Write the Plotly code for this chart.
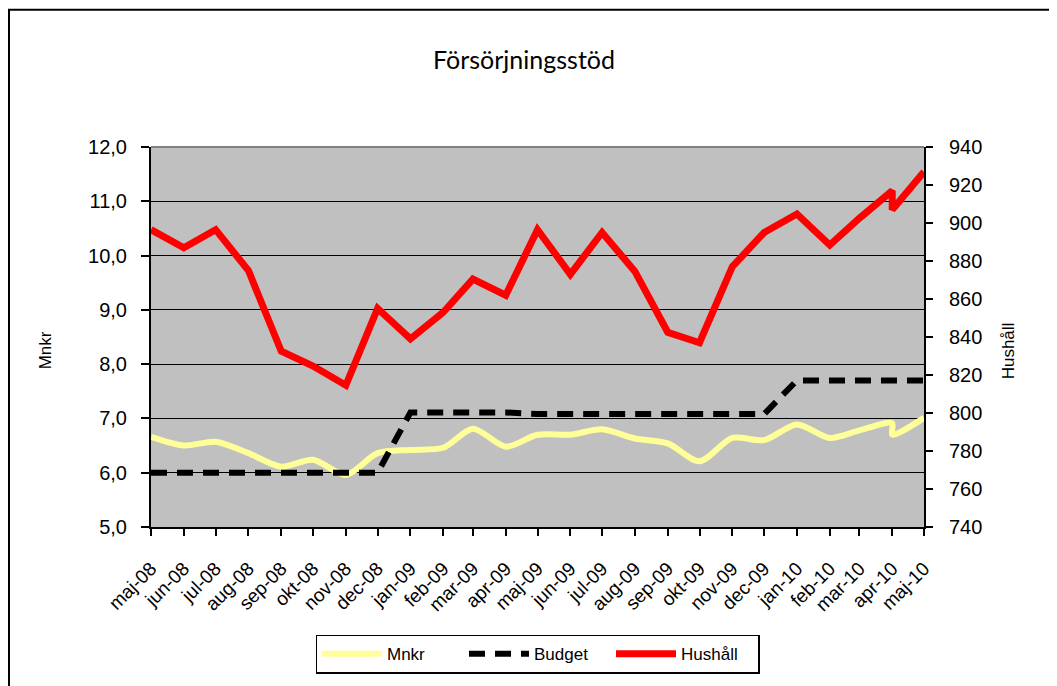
import plotly.graph_objects as go

# ---- data ----
dates = [
    "2008-05-01", "2008-06-01", "2008-07-01", "2008-08-01", "2008-09-01", "2008-10-01",
    "2008-11-01", "2008-12-01", "2009-01-01", "2009-02-01", "2009-03-01", "2009-04-01",
    "2009-05-01", "2009-06-01", "2009-07-01", "2009-08-01", "2009-09-01", "2009-10-01",
    "2009-11-01", "2009-12-01", "2010-01-01", "2010-02-01", "2010-03-01", "2010-04-01",
    "2010-04-01", "2010-05-01",
]
mnkr = [6.66, 6.50, 6.57, 6.36, 6.11, 6.24, 5.96, 6.36, 6.42, 6.46, 6.81, 6.48,
        6.70, 6.70, 6.80, 6.63, 6.54, 6.21, 6.64, 6.60, 6.89, 6.64, 6.78, 6.91,
        6.70, 7.01]
budget = [6.0, 6.0, 6.0, 6.0, 6.0, 6.0, 6.0, 6.0, 7.11, 7.11, 7.11, 7.11,
          7.08, 7.08, 7.08, 7.08, 7.08, 7.08, 7.08, 7.08, 7.70, 7.70, 7.70, 7.70,
          7.70, 7.70]
hushall = [896.5, 887, 896.5, 875, 832.5, 824.7, 814.6, 855, 839, 853, 870.5, 862,
           896.5, 873, 895, 874.5, 842.5, 837, 877, 895, 904.7, 888.4, 902.5, 917,
           907, 927]

tick_dates = [
    "2008-05-01", "2008-06-01", "2008-07-01", "2008-08-01", "2008-09-01", "2008-10-01",
    "2008-11-01", "2008-12-01", "2009-01-01", "2009-02-01", "2009-03-01", "2009-04-01",
    "2009-05-01", "2009-06-01", "2009-07-01", "2009-08-01", "2009-09-01", "2009-10-01",
    "2009-11-01", "2009-12-01", "2010-01-01", "2010-02-01", "2010-03-01", "2010-04-01",
    "2010-05-01",
]
tick_labels = [
    "maj-08", "jun-08", "jul-08", "aug-08", "sep-08", "okt-08", "nov-08", "dec-08",
    "jan-09", "feb-09", "mar-09", "apr-09", "maj-09", "jun-09", "jul-09", "aug-09",
    "sep-09", "okt-09", "nov-09", "dec-09", "jan-10", "feb-10", "mar-10", "apr-10",
    "maj-10",
]

# page has an 8px body margin; figure is sized to fit the window
OFF = 8
W, H = 1057 - OFF, 686 - OFF
L, R, T, B = 151 - OFF, 924 - OFF, 147 - OFF, 532 - OFF
pw, ph = R - L, B - T

def px_x(x):
    return (x - OFF - L) / pw

def px_y(y):
    return (B - (y - OFF)) / ph

FONT = "Liberation Sans, Arial, sans-serif"

fig = go.Figure()
fig.add_trace(go.Scatter(
    x=dates, y=mnkr, name="Mnkr", mode="lines",
    line=dict(color="#FFFF99", width=6, shape="spline", smoothing=0.8),
))
fig.add_trace(go.Scatter(
    x=dates, y=budget, name="Budget", mode="lines",
    line=dict(color="black", width=6, dash="16px,10px"),
))
fig.add_trace(go.Scatter(
    x=dates, y=hushall, name="Hushåll", mode="lines", yaxis="y2",
    line=dict(color="#FF0000", width=7),
))

fig.update_layout(
    width=W, height=H,
    margin=dict(l=L, r=W - R, t=T, b=H - B, pad=0),
    paper_bgcolor="white",
    plot_bgcolor="#C0C0C0",
    separators=", ",
    font=dict(family=FONT, size=18, color="black"),
    title=dict(
        text="Försörjningsstöd",
        font=dict(family="Lato, Open Sans, sans-serif", size=25, color="black"),
        xref="container", x=(524 - OFF) / W, xanchor="center",
        yref="container", y=1 - (60 - OFF) / H, yanchor="middle",
    ),
    xaxis=dict(
        type="date",
        range=["2008-05-01", "2010-05-01"],
        tickmode="array", tickvals=tick_dates, ticktext=tick_labels,
        tickangle=-45,
        tickfont=dict(family=FONT, size=19),
        ticklabelstandoff=14,
        showgrid=False, zeroline=False,
        showline=True, linecolor="black", linewidth=2,
        ticks="outside", ticklen=7, tickwidth=1.5, tickcolor="black",
    ),
    yaxis=dict(
        range=[5, 12], dtick=1, tick0=5, tickformat=".1f",
        tickfont=dict(family=FONT, size=20),
        ticklabelstandoff=10,
        showgrid=True, gridcolor="black", gridwidth=1.2,
        zeroline=False,
        showline=True, linecolor="black", linewidth=2,
        ticks="outside", ticklen=8, tickwidth=1.5, tickcolor="black",
    ),
    yaxis2=dict(
        overlaying="y", side="right",
        range=[740, 940], dtick=20, tick0=740,
        tickfont=dict(family=FONT, size=20),
        ticklabelstandoff=12,
        showgrid=False, zeroline=False,
        showline=True, linecolor="black", linewidth=2,
        ticks="outside", ticklen=7, tickwidth=1.5, tickcolor="black",
    ),
    legend=dict(
        orientation="h",
        x=0.5, xanchor="center",
        y=px_y(641), yanchor="top",
        bgcolor="white", bordercolor="black", borderwidth=1.5,
        font=dict(family=FONT, size=17),
        itemwidth=60,
        entrywidth=72, entrywidthmode="pixels",
        traceorder="normal",
    ),
    showlegend=True,
)

fig.add_annotation(
    text="Mnkr", xref="paper", yref="paper",
    x=px_x(45), y=px_y(353), textangle=-90, showarrow=False,
    font=dict(family=FONT, size=17), xanchor="center", yanchor="middle",
)
fig.add_annotation(
    text="Hushåll", xref="paper", yref="paper",
    x=px_x(1008), y=px_y(353), textangle=-90, showarrow=False,
    font=dict(family=FONT, size=17), xanchor="center", yanchor="middle",
)

# plot-area top border (gray) and outer chart frame
fig.add_shape(type="line", xref="paper", yref="paper", x0=0, x1=1, y0=1, y1=1,
              line=dict(color="#808080", width=2))
fig.add_shape(type="rect", xref="paper", yref="paper",
              x0=px_x(9), x1=px_x(1075), y0=px_y(700), y1=px_y(8),
              line=dict(color="black", width=2), fillcolor="rgba(0,0,0,0)")

fig.write_html("out.html")
